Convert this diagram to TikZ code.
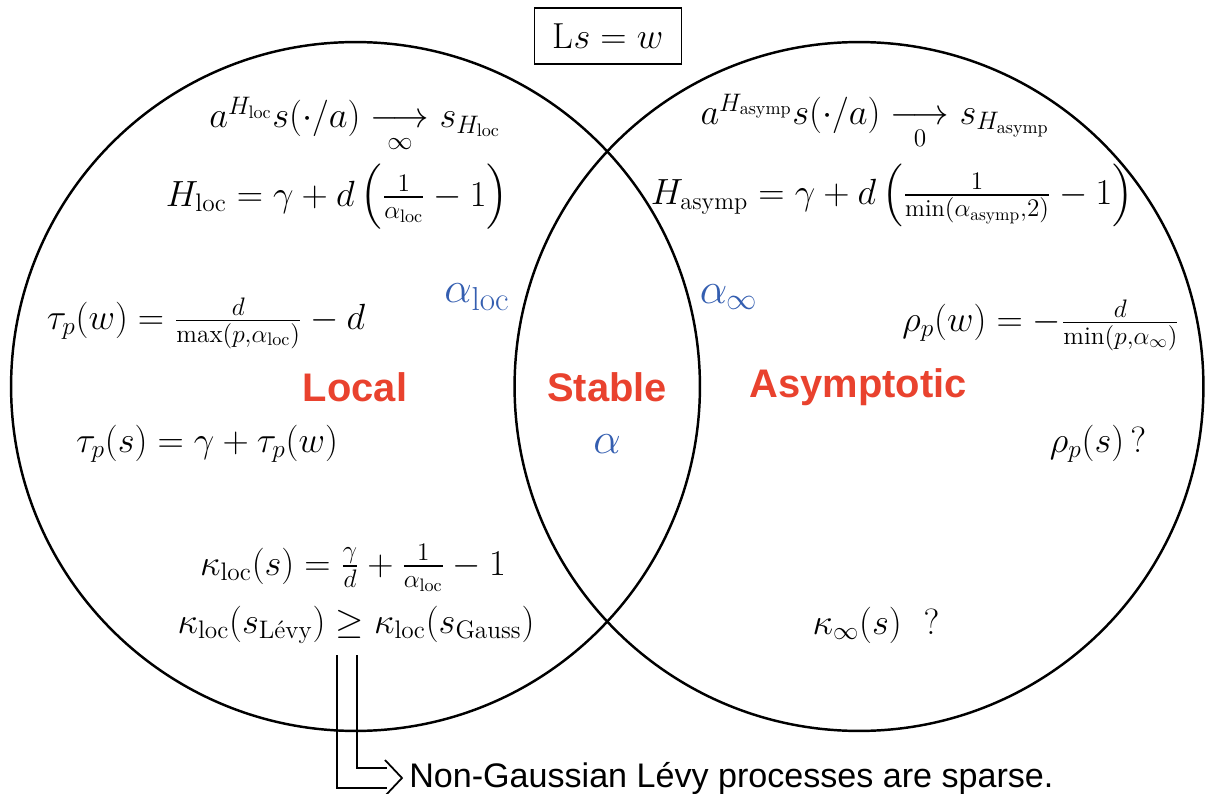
\documentclass[tikz,border=0pt]{standalone}
\usepackage{amsmath,amssymb}
\usepackage{fontspec}
\setsansfont{Liberation Sans}
\usetikzlibrary{positioning,calc}
\definecolor{vennred}{RGB}{233,66,46}
\definecolor{vennblue}{RGB}{52,94,176}

\begin{document}
\begin{tikzpicture}[
  x=0.02cm, y=-0.02cm,
  eq/.style={font=\fontsize{20.6}{25}\selectfont, inner sep=0pt},
  region/.style={font=\fontsize{22.7}{27}\selectfont\sffamily\bfseries, text=vennred, inner sep=0pt},
  ind/.style={font=\fontsize{27}{32}\selectfont, text=vennblue, inner sep=0pt},
  venn/.style={draw, circle, line width=1.4pt, minimum size=13.78cm, inner sep=0pt},
  note/.style={font=\fontsize{19.4}{23}\selectfont\sffamily, inner sep=0pt}
]
\useasboundingbox (0,0) rectangle (1205,794);
% header
\node[eq, draw, line width=1pt, minimum width=2.94cm, minimum height=1.12cm] (model) at (608,36) {$\mathrm{L}s=w$};
% note arrow (drawn first, circles go over it)
\node[note, anchor=west] (note) at (409,778) {Non-Gaussian Lévy processes are sparse.};
\coordinate (arrtop) at (347,655);
\coordinate (tip) at ($(note.west)+(-7,0)$);
\draw[double, line width=1pt, double distance=0.36cm] (arrtop) |- ($(tip)+(-15,0)$);
\draw[line width=1pt, line join=miter] ($(tip)+(-17,-18)$) -- (tip) -- ($(tip)+(-17,18)$);
% the two regions
\node[venn] (local) at (355.5,386.5) {};
\node[venn] (asym) at (859,386.5) {};
% local side
\node[eq] (lscale) at (355,125) {$a^{H_{\mathrm{loc}}}s(\cdot/a)\underset{\infty}{\longrightarrow}s_{H_{\mathrm{loc}}}$};
\node[eq] (lhurst) at (337,197) {$H_{\mathrm{loc}}=\gamma+d\left(\frac{1}{\alpha_{\mathrm{loc}}}-1\right)$};
\node[eq] (ltauw) at (206,323) {$\tau_p(w)=\frac{d}{\max(p,\alpha_{\mathrm{loc}})}-d$};
\node[eq] (ltaus) at (207,444) {$\tau_p(s)=\gamma+\tau_p(w)$};
\node[eq] (lkappa) at (353,568) {$\kappa_{\mathrm{loc}}(s)=\frac{\gamma}{d}+\frac{1}{\alpha_{\mathrm{loc}}}-1$};
\node[eq] (lkcomp) at (356,625) {$\kappa_{\mathrm{loc}}(s_{\text{Lévy}})\geq\kappa_{\mathrm{loc}}(s_{\mathrm{Gauss}})$};
\node[region] (lname) at (355,387) {Local};
\node[ind] (aloc) at (477,297) {$\alpha_{\mathrm{loc}}$};
% middle
\node[region] (sname) at (607,387) {Stable};
\node[ind] (astab) at (607,444) {$\alpha$};
% asymptotic side
\node[eq] (ascale) at (875,122) {$a^{H_{\mathrm{asymp}}}s(\cdot/a)\underset{0}{\longrightarrow}s_{H_{\mathrm{asymp}}}$};
\node[eq, font=\fontsize{19.8}{24}\selectfont] (ahurst) at (892,195) {$H_{\mathrm{asymp}}=\gamma+d\left(\frac{1}{\min(\alpha_{\mathrm{asymp}},2)}-1\right)$};
\node[ind] (ainf) at (729,297) {$\alpha_{\infty}$};
\node[eq] (arhow) at (1041,325) {$\rho_p(w)=-\frac{d}{\min(p,\alpha_{\infty})}$};
\node[region] (aname) at (858,387) {Asymptotic};
\node[eq] (arhos) at (1098,444) {$\rho_p(s)\,?$};
\node[eq] (akappa) at (876,625) {$\kappa_{\infty}(s)\ \ ?$};
\end{tikzpicture}
\end{document}
